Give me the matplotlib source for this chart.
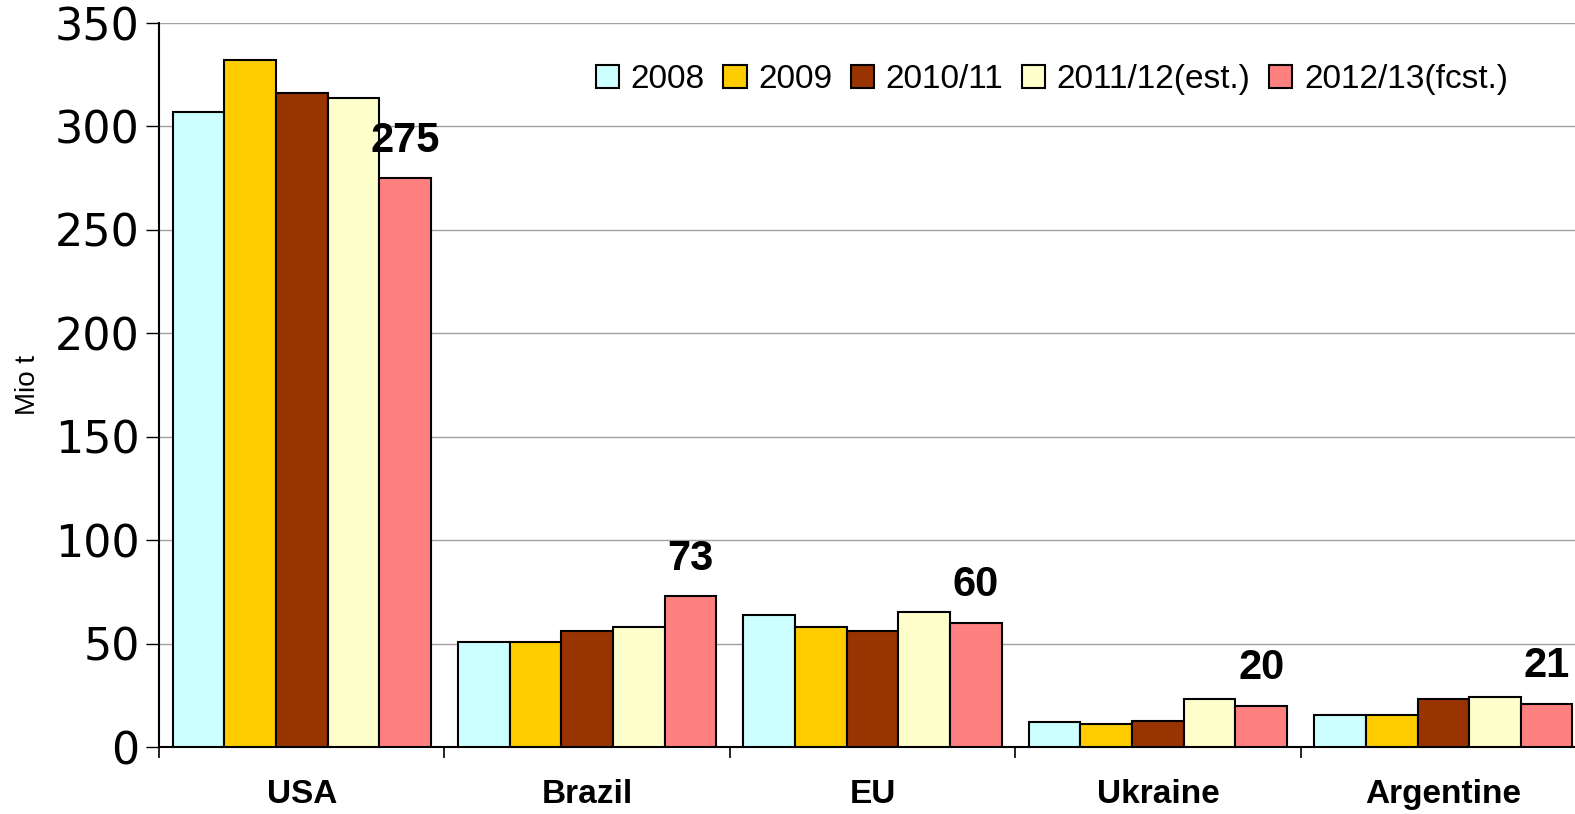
import matplotlib
matplotlib.use("Agg")
import matplotlib.pyplot as plt
import numpy as np

# donnees
pays = ["USA", "Brazil", "EU", "Ukraine", "Argentine"]
saisons = ["2008", "2009", "2010/11", "2011/12(est.)", "2012/13(fcst.)"]
v_2008 = [307, 51, 64, 12, 15.5]
v_2009 = [332, 51, 58, 11, 15.5]
v_2010 = [316, 56, 56, 12.5, 23]
v_2011 = [314, 58, 65.5, 23, 24]
v_2012 = [275, 73, 60, 20, 21]
etiquettes = ["275", "73", "60", "20", "21"]

couleurs = ["#CCFFFF", "#FFCC00", "#993300", "#FFFFCC", "#FF8080"]
series = [v_2008, v_2009, v_2010, v_2011, v_2012]

fig = plt.figure(figsize=(15.75, 8.14), dpi=100)
ax = fig.add_axes([0.101, 0.0823, 0.906, 0.8894])

largeur = 0.181
x = np.arange(len(pays)) + 0.5
for j, (vals, c, nom) in enumerate(zip(series, couleurs, saisons)):
    ax.bar(x + (j - 2) * largeur, vals, largeur, color=c, edgecolor="black",
           linewidth=1.5, label=nom, zorder=3)

# valeurs au dessus de la derniere serie
for i, txt in enumerate(etiquettes):
    ax.annotate(txt, (x[i] + 2 * largeur, v_2012[i]), xytext=(0, 27),
                textcoords="offset points", ha="center", va="center",
                fontsize=30, fontweight="bold", family="Liberation Sans")

ax.set_xlim(0, len(pays))
ax.set_ylim(0, 350)
ax.set_yticks(np.arange(0, 351, 50))
ax.yaxis.grid(True, color="#A0A0A0", linewidth=1.0, zorder=0)
ax.set_axisbelow(True)

ax.set_xticks(np.arange(0, len(pays) + 1))
ax.set_xticklabels([])
ax.set_xticks(x, minor=True)
ax.set_xticklabels(pays, minor=True, fontsize=24, fontweight="bold",
                   family="Liberation Sans")
ax.tick_params(axis="x", which="major", direction="out", length=8, width=1.2)
ax.tick_params(axis="x", which="minor", length=0, pad=23)
ax.tick_params(axis="y", direction="out", length=9.5, width=1.0, pad=4.5,
               labelsize=32)
for lab in ax.get_yticklabels():
    lab.set_family("DejaVu Sans")

for s in ["top", "right"]:
    ax.spines[s].set_visible(False)
ax.spines["left"].set_linewidth(1.5)
ax.spines["bottom"].set_linewidth(1.5)

ax.set_ylabel("Mio t", fontsize=20, family="Liberation Sans", labelpad=10)

leg = ax.legend(loc="upper left", bbox_to_anchor=(0.285, 0.985), ncol=5,
                frameon=False, prop={"family": "Liberation Sans", "size": 24},
                handlelength=0.7, handleheight=0.7, handletextpad=0.35,
                columnspacing=0.55)

fig.savefig("out.png", dpi=100)
